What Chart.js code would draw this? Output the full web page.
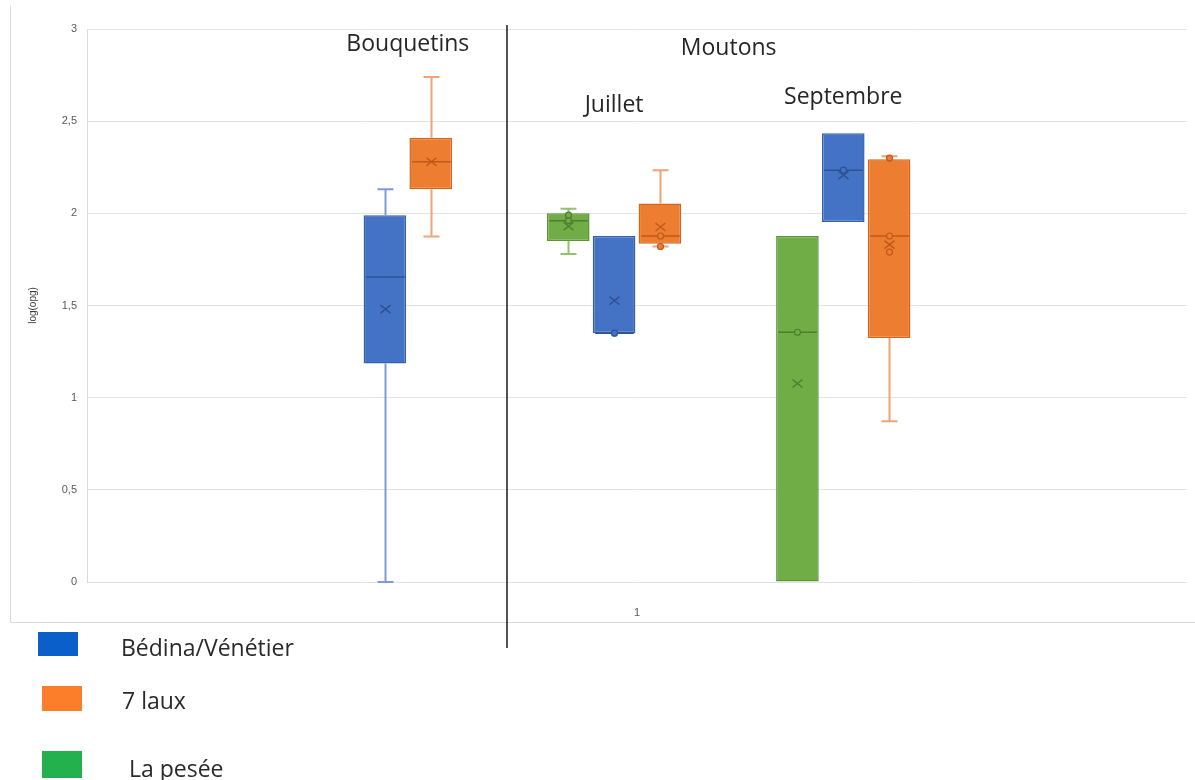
<!DOCTYPE html>
<html lang="fr">
<head>
<meta charset="utf-8">
<title>log(opg) – Bouquetins et Moutons</title>
<script src="https://cdn.jsdelivr.net/npm/chart.js@4.4.1/dist/chart.umd.min.js"></script>
<style>
  html, body { margin: 0; padding: 0; background: #ffffff; }
  #wrap { position: relative; width: 1195px; height: 780px; overflow: hidden; }
  #chart { position: absolute; left: 0; top: 0; }
  .key { position: absolute; display: flex; align-items: center; font-family: "Open Sans", "Noto Sans", sans-serif; font-size: 23px; color: #2a2a2a; }
  .sw { position: absolute; }
</style>
</head>
<body>
<div id="wrap">
  <canvas id="chart" width="1195" height="780"></canvas>
  <div class="sw" style="left:38px;top:632px;width:40px;height:24px;background:#0a60c8"></div>
  <div class="key" style="left:121px;top:631px;height:32px">Bédina/Vénétier</div>
  <div class="sw" style="left:42px;top:686px;width:40px;height:25px;background:#fd7e2a"></div>
  <div class="key" style="left:122px;top:684px;height:32px">7 laux</div>
  <div class="sw" style="left:42px;top:751px;width:40px;height:27px;background:#22b14c"></div>
  <div class="key" style="left:129px;top:752px;height:32px">La pesée</div>
</div>
<script>
// Groups and sites
const groups = ['Bouquetins', 'Juillet', 'Septembre'];
const siteNames = ['Bédina/Vénétier', '7 laux', 'La pesée'];
const siteOrder = ['La pesée', 'Bédina/Vénétier', '7 laux']; // left-to-right order inside a group

// One entry per box
const boxGroups = ['Bouquetins', 'Bouquetins', 'Juillet', 'Juillet', 'Juillet', 'Septembre', 'Septembre', 'Septembre'];
const boxSites  = ['Bédina/Vénétier', '7 laux', 'La pesée', 'Bédina/Vénétier', '7 laux', 'La pesée', 'Bédina/Vénétier', '7 laux'];
const whiskerLow  = [0.00, 1.875, 1.78, 1.35, 1.82, 0.00, 1.953, 0.872];
const quartile1   = [1.185, 2.13, 1.85, 1.35, 1.835, 0.00, 1.953, 1.324];
const medians     = [1.655, 2.28, 1.96, 1.35, 1.877, 1.355, 2.234, 1.877];
const quartile3   = [1.99, 2.41, 2.00, 1.877, 2.054, 1.877, 2.435, 2.293];
const whiskerHigh = [2.13, 2.74, 2.025, 1.877, 2.234, 1.877, 2.435, 2.31];
const means       = [1.48, 2.28, 1.93, 1.526, 1.926, 1.077, 2.207, 1.83];
const innerPoints = [[], [], [1.96, 1.99], [1.35], [1.877, 1.82], [1.355], [2.234], [2.30, 1.877, 1.79]];

// Axis ticks
const yTicks = [0, 0.5, 1, 1.5, 2, 2.5, 3];
const categoryLabels = ['1'];

// Styling per site
const siteStyle = {
  'Bédina/Vénétier': { fill: '#4472c4', edge: '#3561ad', whisker: '#7c9bd6', mark: '#2d5296' },
  '7 laux':          { fill: '#ed7d31', edge: '#d1661c', whisker: '#eea476', mark: '#c0591a' },
  'La pesée':        { fill: '#70ad47', edge: '#5a9436', whisker: '#91c070', mark: '#4d7f2e' }
};

const SLOT_COUNT = 24;
const GROUP_STRIDE = 5;
const slotOf = i => GROUP_STRIDE * (groups.indexOf(boxGroups[i]) + 1) + siteOrder.indexOf(boxSites[i]);
const slotLabels = Array.from({ length: SLOT_COUNT }, (_, k) => 's' + k);

const datasets = siteNames.map(site => {
  const data = new Array(SLOT_COUNT).fill(null);
  boxSites.forEach((s, i) => { if (s === site) data[slotOf(i)] = [quartile1[i], quartile3[i]]; });
  const st = siteStyle[site];
  return {
    label: site,
    data,
    backgroundColor: st.fill,
    borderColor: st.edge,
    borderWidth: 1.5,
    borderSkipped: false,
    grouped: false,
    barPercentage: 0.93,
    categoryPercentage: 1.0
  };
});

// Text labels above the boxes
const headings = [
  { text: 'Bouquetins', slots: ['Bouquetins'], y: 44 },
  { text: 'Moutons', slots: ['Juillet', 'Septembre'], y: 48 },
  { text: 'Juillet', slots: ['Juillet'], y: 105 },
  { text: 'Septembre', slots: ['Septembre'], y: 97 }
];

const groupCenter = g => {
  const ss = [];
  boxGroups.forEach((bg, i) => { if (bg === g) ss.push(slotOf(i)); });
  return ss.reduce((a, b) => a + b, 0) / ss.length;
};

const boxDetails = {
  id: 'boxDetails',
  beforeDraw(chart) {
    const { ctx } = chart;
    ctx.save();
    ctx.strokeStyle = '#d9d9d9';
    ctx.lineWidth = 1;
    ctx.beginPath();
    ctx.moveTo(10.5, 6); ctx.lineTo(10.5, 622.5); ctx.lineTo(1195, 622.5);
    ctx.stroke();
    ctx.restore();
  },
  afterDatasetsDraw(chart) {
    const { ctx } = chart;
    const xs = chart.scales.x, ys = chart.scales.y;
    ctx.save();
    boxSites.forEach((site, i) => {
      const st = siteStyle[site];
      const slot = slotOf(i);
      const cx = Math.round(xs.getPixelForValue(slot)) + 0.5;
      const bar = chart.getDatasetMeta(siteNames.indexOf(site)).data[slot];
      const half = bar.width / 2;
      const yLow = ys.getPixelForValue(whiskerLow[i]);
      const yQ1 = ys.getPixelForValue(quartile1[i]);
      const yQ3 = ys.getPixelForValue(quartile3[i]);
      const yHigh = ys.getPixelForValue(whiskerHigh[i]);
      const cap = 8;

      // whiskers
      ctx.strokeStyle = st.whisker;
      ctx.lineWidth = 2;
      if (whiskerHigh[i] > quartile3[i]) {
        ctx.beginPath();
        ctx.moveTo(cx, yQ3); ctx.lineTo(cx, yHigh);
        ctx.moveTo(cx - cap, yHigh); ctx.lineTo(cx + cap, yHigh);
        ctx.stroke();
      }
      if (whiskerLow[i] < quartile1[i]) {
        ctx.beginPath();
        ctx.moveTo(cx, yQ1); ctx.lineTo(cx, yLow);
        ctx.moveTo(cx - cap, yLow); ctx.lineTo(cx + cap, yLow);
        ctx.stroke();
      }

      // median
      const yMed = ys.getPixelForValue(medians[i]);
      ctx.strokeStyle = st.mark;
      ctx.lineWidth = 1.5;
      ctx.beginPath();
      ctx.moveTo(cx - half + 2, yMed); ctx.lineTo(cx + half - 2, yMed);
      ctx.stroke();

      // inner points
      ctx.lineWidth = 1.2;
      innerPoints[i].forEach(v => {
        ctx.beginPath();
        ctx.fillStyle = st.fill;
        ctx.arc(cx, ys.getPixelForValue(v), 3, 0, Math.PI * 2);
        ctx.fill(); ctx.stroke();
      });

      // mean marker
      const yMean = ys.getPixelForValue(means[i]);
      const m = 5;
      ctx.lineWidth = 1.5;
      ctx.beginPath();
      ctx.moveTo(cx - m, yMean - m * 0.8); ctx.lineTo(cx + m, yMean + m * 0.8);
      ctx.moveTo(cx - m, yMean + m * 0.8); ctx.lineTo(cx + m, yMean - m * 0.8);
      ctx.stroke();
    });
    ctx.restore();
  },
  afterDraw(chart) {
    const { ctx } = chart;
    const xs = chart.scales.x;
    ctx.save();
    // separator between the two animal groups
    ctx.strokeStyle = '#1a1a1a';
    ctx.lineWidth = 1.5;
    ctx.beginPath();
    ctx.moveTo(507, 25); ctx.lineTo(507, 648);
    ctx.stroke();

    ctx.fillStyle = '#262626';
    ctx.font = '23px "Open Sans", "Noto Sans", sans-serif';
    ctx.textAlign = 'center';
    ctx.textBaseline = 'middle';
    headings.forEach(h => {
      const centers = h.slots.map(groupCenter);
      const center = centers.reduce((a, b) => a + b, 0) / centers.length;
      ctx.fillText(h.text, xs.getPixelForValue(center), h.y);
    });
    ctx.restore();
  }
};

new Chart(document.getElementById('chart'), {
  type: 'bar',
  data: { labels: slotLabels, datasets },
  options: {
    responsive: false,
    animation: false,
    devicePixelRatio: 1,
    layout: { padding: { left: 0, top: 29, right: 8, bottom: 158 } },
    plugins: { legend: { display: false }, tooltip: { enabled: false } },
    scales: {
      x: { type: 'category', display: false, offset: true },
      xc: {
        type: 'category',
        labels: categoryLabels,
        position: 'bottom',
        offset: true,
        grid: { display: false },
        border: { display: false },
        ticks: { color: '#595959', font: { family: 'Liberation Sans', size: 11 }, padding: 16 },
        afterFit(s) { s.height = 40; }
      },
      y: {
        min: 0,
        max: 3,
        afterBuildTicks(s) { s.ticks = yTicks.map(v => ({ value: v })); },
        afterFit(s) { s.width = 87; },
        ticks: {
          color: '#595959',
          font: { family: 'Liberation Sans', size: 11 },
          padding: 10,
          callback: v => String(v).replace('.', ',')
        },
        grid: { color: '#e3e3e3', lineWidth: 1, drawTicks: false },
        border: { display: true, color: '#d9d9d9' },
        title: {
          display: true,
          text: 'log(opg)',
          color: '#404040',
          font: { family: 'Liberation Sans', size: 10 },
          padding: { top: 27, bottom: 0 }
        }
      }
    }
  },
  plugins: [boxDetails]
});
</script>
</body>
</html>
